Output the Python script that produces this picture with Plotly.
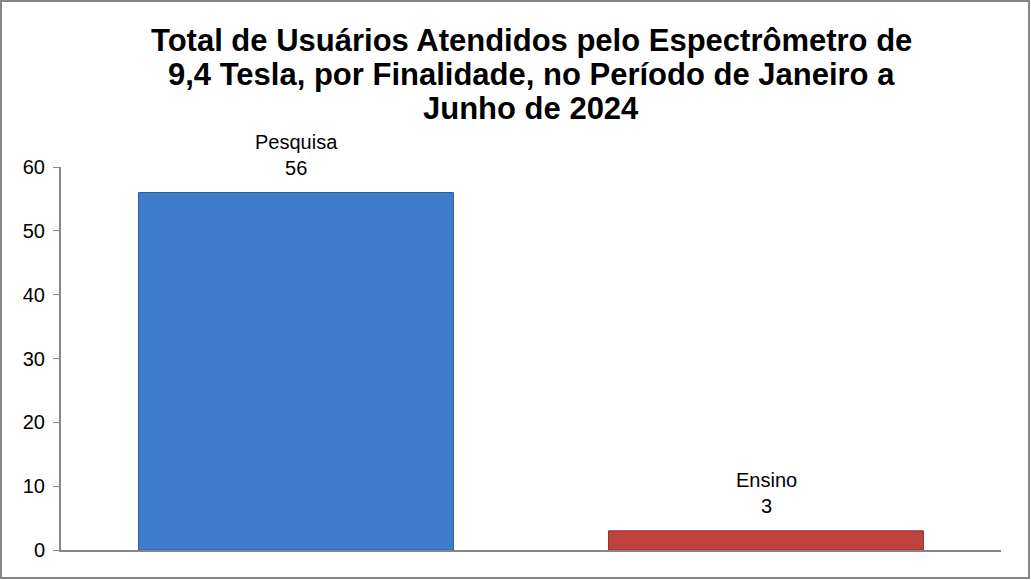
import plotly.graph_objects as go

categorias = ['Pesquisa', 'Ensino']
usuarios = [56, 3]
cores = ['#3F7CCB', '#C0423F']
bordas = ['#2F5F9E', '#8E2E2C']
y_ticks = [0, 10, 20, 30, 40, 50, 60]

titulo_linhas = ['Total de Usuários Atendidos pelo Espectrômetro de',
                 '9,4 Tesla, por Finalidade, no Período de Janeiro a',
                 'Junho de 2024']

W, H = 1031, 580
ml, mr, mt, mb = 61, 30, 167, 30
pw, ph = W - ml - mr, H - mt - mb
fonte = 'Arial, Liberation Sans, sans-serif'


def py(pix):
    # posição vertical em pixels (a partir do topo) -> coordenada paper
    return (H - mb - pix) / ph


fig = go.Figure()
fig.add_trace(go.Bar(
    x=categorias, y=usuarios,
    marker=dict(color=cores, line=dict(color=bordas, width=1)),
    hoverinfo='x+y'
))

# rótulos de dados (categoria + valor) acima das barras
for c, v in zip(categorias, usuarios):
    fig.add_annotation(x=c, y=v, text=f'{c}<br>{v}', showarrow=False,
                       yanchor='bottom', yshift=12,
                       font=dict(family=fonte, size=20, color='#000000'))

# título em três linhas, com espaçamento próximo ao do Excel
for i, linha in enumerate(titulo_linhas):
    fig.add_annotation(x=0.5, xref='paper', y=py(40 + 34.3 * i), yref='paper',
                       text=f'<b>{linha}</b>', showarrow=False,
                       xanchor='center', yanchor='middle',
                       font=dict(family=fonte, size=31, color='#000000'))

fig.update_layout(
    width=W, height=H,
    margin=dict(l=ml, r=mr, t=mt, b=mb),
    paper_bgcolor='white', plot_bgcolor='white',
    bargap=0.33,
    showlegend=False,
    font=dict(family=fonte, size=20, color='#000000'),
)
fig.update_xaxes(range=[-0.5, 1.5], showticklabels=False, ticks='',
                 showline=True, linecolor='#868686', linewidth=2,
                 showgrid=False, zeroline=False)
fig.update_yaxes(range=[0, 60], tickvals=y_ticks, ticks='outside', ticklen=6,
                 tickcolor='#868686', tickwidth=1, showline=True,
                 linecolor='#868686', linewidth=2, showgrid=False, zeroline=False,
                 tickfont=dict(size=20), ticklabelstandoff=4)

# moldura externa do gráfico
fig.add_shape(type='rect', xref='paper', yref='paper',
              x0=(1 - ml) / pw, x1=(W - 2 - ml) / pw,
              y0=-(mb - 2) / ph, y1=1 + (mt - 1) / ph,
              line=dict(color='#868686', width=2), fillcolor='rgba(0,0,0,0)')

fig.write_html('out.html', config={'displayModeBar': False},
               post_script="document.body.style.margin='0';")
